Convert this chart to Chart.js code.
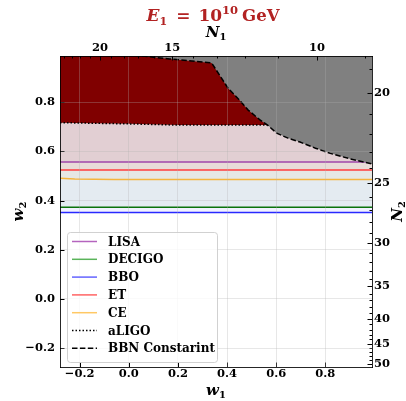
<!DOCTYPE html>
<html>
<head>
<meta charset="utf-8">
<script src="https://cdn.jsdelivr.net/npm/chart.js@4.4.1/dist/chart.umd.min.js"></script>
<style>
  html, body { margin: 0; padding: 0; background: #fff; }
</style>
</head>
<body>
<canvas id="myChart" width="406" height="401"></canvas>
<script>
// axis limits (w1 along x, w2 along y)
var w1Range = [-0.28, 0.99];
var w2Range = [-0.277, 0.988];

// N = k / (1 + w) for the top and right axes
var n1Const = 17.66;
var n2Const = 36.77;
var n1Ticks = [20, 15, 10];
var n2Ticks = [20, 25, 30, 35, 40, 45, 50];

// detector lines
var labels = ['LISA', 'DECIGO', 'BBO', 'ET', 'CE', 'aLIGO', 'BBN Constarint'];
var flatW1 = [-0.28, 0.99];
var lisaW2 = [0.557, 0.557];
var decigoW2 = [0.373, 0.373];
var bboW2 = [0.351, 0.351];
var etW2 = [0.524, 0.524];
var ceW1 = [-0.28, -0.22, -0.06, 0.99];
var ceW2 = [0.491, 0.488, 0.486, 0.486];

// aLIGO bound (dotted) and BBN constraint (dashed)
var aligoW1 = [-0.28, 0.0, 0.2, 0.565];
var aligoW2 = [0.717, 0.712, 0.707, 0.707];
var bbnW1 = [-0.01, 0.167, 0.337, 0.404, 0.450, 0.486, 0.534, 0.565, 0.602, 0.648, 0.697, 0.76, 0.82, 0.90, 0.99];
var bbnW2 = [0.995, 0.976, 0.960, 0.857, 0.809, 0.768, 0.728, 0.707, 0.674, 0.654, 0.638, 0.613, 0.592, 0.570, 0.549];

var lineColors = ['rgb(160,70,170)', 'rgb(10,115,10)', 'rgb(40,40,255)', 'rgb(255,60,60)', 'rgb(245,180,60)', '#000', '#000'];
var legendColors = ['rgb(180,100,190)', 'rgb(90,180,90)', 'rgb(100,100,255)', 'rgb(255,100,100)', 'rgb(255,200,100)', '#000', '#000'];
var fillColors = ['rgba(128,0,128,0.055)', 'rgba(0,128,0,0.055)', 'rgba(0,0,255,0.055)', 'rgba(255,0,0,0.055)', 'rgba(255,165,0,0.055)', '#800000', '#808080'];

var serif = '"DejaVu Serif", serif';

function pts(xs, ys) {
    return xs.map(function (x, i) { return { x: x, y: ys[i] }; });
}

function lineSet(i, data, order, dash) {
    return {
        label: labels[i],
        data: data,
        borderColor: lineColors[i],
        backgroundColor: fillColors[i],
        legendColor: legendColors[i],
        borderWidth: 1.5,
        borderDash: dash || [],
        pointRadius: 0,
        fill: 'end',
        order: order
    };
}

var datasets = [
    lineSet(0, pts(flatW1, lisaW2), 3),
    lineSet(1, pts(flatW1, decigoW2), 6),
    lineSet(2, pts(flatW1, bboW2), 7),
    lineSet(3, pts(flatW1, etW2), 4),
    lineSet(4, pts(ceW1, ceW2), 5),
    lineSet(5, pts(aligoW1, aligoW2), 2, [1.5, 2]),
    lineSet(6, pts(bbnW1, bbnW2), 1, [5.5, 2.4])
];

function fmt(v) {
    var s = Math.abs(v).toFixed(1);
    return v < -1e-9 ? '\u2212' + s : s;
}

function nToW(k, n) { return k / n - 1; }

// inward tick marks, minor ticks on the N axes
var innerTicks = {
    id: 'innerTicks',
    afterDatasetsDraw: function (chart) {
        var ctx = chart.ctx, a = chart.chartArea, s = chart.scales;
        ctx.save();
        ctx.strokeStyle = '#000';
        ctx.lineWidth = 1;
        function mark(x1, y1, x2, y2) {
            ctx.beginPath(); ctx.moveTo(x1, y1); ctx.lineTo(x2, y2); ctx.stroke();
        }
        function px(scale, v) { return Math.round(scale.getPixelForValue(v)) + 0.5; }
        s.x.ticks.forEach(function (t) { var p = px(s.x, t.value); mark(p, a.bottom, p, a.bottom - 4.5); });
        s.y.ticks.forEach(function (t) { var p = px(s.y, t.value); mark(a.left, p, a.left + 4.5, p); });
        for (var n = 9; n <= 24; n++) {
            var w = nToW(n1Const, n);
            if (w < w1Range[0] || w > w1Range[1]) continue;
            var p = px(s.x2, w);
            var len = n1Ticks.indexOf(n) >= 0 ? 4.5 : 2.5;
            mark(p, a.top, p, a.top + len);
        }
        for (var m = 19; m <= 50; m++) {
            var w2 = nToW(n2Const, m);
            if (w2 < w2Range[0] || w2 > w2Range[1]) continue;
            var q = px(s.y2, w2);
            var len2 = n2Ticks.indexOf(m) >= 0 ? 4.5 : 2.5;
            mark(a.right, q, a.right - len2, q);
        }
        ctx.restore();
    }
};

function drawPieces(ctx, pieces, x, y, rot) {
    ctx.save();
    ctx.translate(x, y);
    ctx.rotate(rot || 0);
    ctx.textBaseline = 'alphabetic';
    ctx.textAlign = 'left';
    var total = 0;
    pieces.forEach(function (p) {
        ctx.font = p.font;
        p.w = ctx.measureText(p.text).width;
        total += p.w + (p.gap || 0);
    });
    var cx = -total / 2;
    pieces.forEach(function (p) {
        ctx.font = p.font;
        ctx.fillText(p.text, cx, p.dy || 0);
        cx += p.w + (p.gap || 0);
    });
    ctx.restore();
}

// title, axis names and legend
var decorations = {
    id: 'decorations',
    afterDraw: function (chart) {
        var ctx = chart.ctx, a = chart.chartArea;
        var mid = (a.left + a.right) / 2;

        ctx.fillStyle = '#b22222';
        drawPieces(ctx, [
            { text: 'E', font: 'italic bold 17px ' + serif },
            { text: '1', font: 'bold 11px ' + serif, dy: 3.5, gap: 9 },
            { text: '=', font: 'bold 17px ' + serif, gap: 8 },
            { text: '10', font: 'bold 17px ' + serif },
            { text: '10', font: 'bold 11.5px ' + serif, dy: -7, gap: 4 },
            { text: 'GeV', font: 'bold 16.5px ' + serif }
        ], mid - 3, a.top - 35);

        ctx.fillStyle = '#000';
        var varFont = 'italic bold 15px ' + serif;
        var subFont = 'bold 10px ' + serif;
        drawPieces(ctx, [{ text: 'N', font: varFont }, { text: '1', font: subFont, dy: 3 }], mid, a.top - 19);
        drawPieces(ctx, [{ text: 'w', font: varFont }, { text: '1', font: subFont, dy: 3 }], mid, a.bottom + 28);
        drawPieces(ctx, [{ text: 'w', font: varFont }, { text: '2', font: subFont, dy: 3 }], a.left - 37, (a.top + a.bottom) / 2, -Math.PI / 2);
        drawPieces(ctx, [{ text: 'N', font: varFont }, { text: '2', font: subFont, dy: 3 }], a.right + 30, (a.top + a.bottom) / 2, -Math.PI / 2);

        // legend box
        var bx = a.left + 7, bw = 150, bh = 130, by = a.bottom - 5 - bh;
        ctx.save();
        ctx.beginPath();
        ctx.roundRect(bx + 0.5, by + 0.5, bw, bh, 3);
        ctx.fillStyle = 'rgba(255,255,255,0.8)';
        ctx.fill();
        ctx.strokeStyle = 'rgba(204,204,204,0.9)';
        ctx.lineWidth = 1;
        ctx.stroke();
        ctx.font = 'bold 12px ' + serif;
        ctx.textBaseline = 'middle';
        chart.data.datasets.forEach(function (d, i) {
            var yy = by + 9.5 + i * 17.8;
            ctx.beginPath();
            ctx.setLineDash(d.borderDash);
            ctx.strokeStyle = d.legendColor;
            ctx.lineWidth = 1.5;
            ctx.moveTo(bx + 5, yy);
            ctx.lineTo(bx + 30, yy);
            ctx.stroke();
            ctx.setLineDash([]);
            ctx.fillStyle = '#000';
            ctx.fillText(d.label, bx + 41, yy + 1);
        });
        ctx.restore();
    }
};

var tickFont = { family: serif, weight: 'bold', size: 11.5 };
var gridStyle = { color: 'rgba(176,176,176,0.3)', lineWidth: 1, drawTicks: false, z: 1 };
var borderStyle = { display: true, color: 'rgba(0,0,0,0.85)', width: 1, z: 2 };

var ctx = document.getElementById('myChart').getContext('2d');
var myChart = new Chart(ctx, {
    type: 'line',
    data: { datasets: datasets },
    options: {
        responsive: false,
        animation: false,
        devicePixelRatio: 1,
        layout: { padding: 0 },
        plugins: { legend: { display: false }, tooltip: { enabled: false } },
        scales: {
            x: {
                type: 'linear', position: 'bottom',
                min: w1Range[0], max: w1Range[1],
                grid: gridStyle, border: borderStyle,
                ticks: { stepSize: 0.2, includeBounds: false, font: tickFont, color: '#000', padding: 0, maxRotation: 0, callback: fmt },
                afterFit: function (sc) { sc.height = 34; }
            },
            x2: {
                type: 'linear', position: 'top',
                min: w1Range[0], max: w1Range[1],
                grid: { display: false, drawTicks: false }, border: borderStyle,
                ticks: {
                    font: tickFont, color: '#000', padding: 1, maxRotation: 0, autoSkip: false,
                    callback: function (v, i) { return String(n1Ticks[i]); }
                },
                afterBuildTicks: function (sc) {
                    sc.ticks = n1Ticks.map(function (n) { return { value: nToW(n1Const, n) }; });
                },
                afterFit: function (sc) { sc.height = 56; }
            },
            y: {
                type: 'linear', position: 'left',
                min: w2Range[0], max: w2Range[1],
                grid: gridStyle, border: borderStyle,
                ticks: { stepSize: 0.2, includeBounds: false, font: tickFont, color: '#000', padding: 5, callback: fmt },
                afterFit: function (sc) { sc.width = 60; }
            },
            y2: {
                type: 'linear', position: 'right',
                min: w2Range[0], max: w2Range[1],
                grid: { display: false, drawTicks: false }, border: borderStyle,
                ticks: {
                    font: tickFont, color: '#000', padding: 2, autoSkip: false,
                    callback: function (v, i) { return String(n2Ticks[i]); }
                },
                afterBuildTicks: function (sc) {
                    sc.ticks = n2Ticks.map(function (n) { return { value: nToW(n2Const, n) }; });
                },
                afterFit: function (sc) { sc.width = 34; }
            }
        }
    },
    plugins: [innerTicks, decorations]
});
</script>
</body>
</html>
